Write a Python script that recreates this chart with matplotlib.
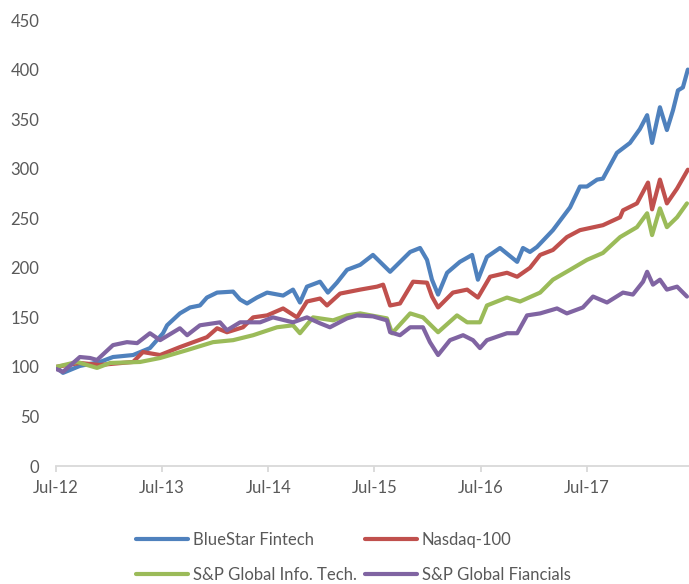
import matplotlib.pyplot as plt
import matplotlib.dates as mdates
import numpy as np

plt.rcParams['font.family'] = ['Lato', 'DejaVu Sans']

fintech_dates = ['2012-07-01', '2012-07-25', '2012-09-21', '2012-11-29', '2013-01-13', '2013-03-23',
                 '2013-05-20', '2013-07-04', '2013-07-18', '2013-08-31', '2013-10-05', '2013-11-08',
                 '2013-12-02', '2014-01-06', '2014-03-02', '2014-03-26', '2014-04-19', '2014-05-23',
                 '2014-06-27', '2014-08-21', '2014-09-24', '2014-10-18', '2014-11-11', '2014-12-26',
                 '2015-01-22', '2015-02-22', '2015-03-29', '2015-05-13', '2015-06-26', '2015-08-24',
                 '2015-11-01', '2015-12-05', '2015-12-29', '2016-01-15', '2016-02-05', '2016-03-07',
                 '2016-04-20', '2016-06-01', '2016-06-21', '2016-07-22', '2016-09-05', '2016-11-03',
                 '2016-11-23', '2016-12-17', '2017-01-10', '2017-03-06', '2017-05-04', '2017-06-07',
                 '2017-07-01', '2017-08-05', '2017-08-25', '2017-10-12', '2017-11-26', '2017-12-30',
                 '2018-01-24', '2018-02-10', '2018-03-09', '2018-04-02', '2018-04-23', '2018-05-10',
                 '2018-05-27', '2018-06-13']
fintech = [100, 94, 101, 105, 110, 112,
           119, 134, 142, 154, 160, 162,
           170, 175, 176, 168, 164, 170,
           175, 172, 178, 165, 181, 186,
           175, 185, 198, 203, 213, 196,
           216, 220, 208, 188, 173, 195,
           206, 213, 188, 211, 220, 206,
           220, 216, 221, 238, 261, 282,
           282, 289, 290, 316, 326, 340,
           354, 326, 362, 339, 359, 379,
           382, 400]

nasdaq_dates = ['2012-07-01', '2012-09-21', '2012-11-29', '2013-03-23', '2013-04-26', '2013-06-24',
                '2013-08-31', '2013-12-02', '2014-01-06', '2014-02-09', '2014-04-05', '2014-05-10',
                '2014-06-27', '2014-08-21', '2014-10-08', '2014-11-11', '2014-12-26', '2015-01-19',
                '2015-03-05', '2015-05-13', '2015-07-10', '2015-07-31', '2015-08-24', '2015-09-27',
                '2015-11-11', '2015-12-29', '2016-01-15', '2016-02-05', '2016-03-27', '2016-05-15',
                '2016-06-21', '2016-08-02', '2016-09-29', '2016-11-03', '2016-12-17', '2017-01-21',
                '2017-03-06', '2017-04-23', '2017-06-07', '2017-08-25', '2017-10-23', '2017-11-02',
                '2017-12-20', '2018-01-27', '2018-02-10', '2018-03-09', '2018-04-02', '2018-05-07',
                '2018-06-13']
nasdaq = [100, 104, 102, 105, 115, 112,
          120, 130, 139, 135, 140, 150,
          152, 159, 150, 166, 169, 162,
          174, 178, 181, 183, 162, 164,
          186, 185, 171, 160, 175, 178,
          170, 191, 195, 191, 200, 213,
          218, 231, 238, 243, 251, 258,
          265, 286, 259, 289, 265, 280,
          299]

infotech_dates = ['2012-07-01', '2012-09-11', '2012-11-19', '2013-01-03', '2013-04-16', '2013-06-24',
                  '2013-09-25', '2013-12-23', '2014-03-02', '2014-05-10', '2014-07-31', '2014-09-24',
                  '2014-10-18', '2014-12-02', '2015-02-09', '2015-03-29', '2015-05-13', '2015-08-13',
                  '2015-08-31', '2015-11-01', '2015-12-15', '2016-02-05', '2016-04-10', '2016-05-15',
                  '2016-06-28', '2016-07-22', '2016-09-29', '2016-11-13', '2017-01-21', '2017-03-06',
                  '2017-05-04', '2017-07-01', '2017-08-25', '2017-10-23', '2017-12-20', '2018-01-24',
                  '2018-02-10', '2018-03-09', '2018-04-02', '2018-05-07', '2018-06-10']
infotech = [100, 105, 99, 104, 105, 109,
            117, 125, 127, 132, 140, 142,
            134, 150, 147, 152, 154, 149,
            134, 154, 150, 135, 152, 145,
            145, 162, 170, 166, 175, 188,
            198, 208, 215, 231, 241, 255,
            233, 260, 241, 251, 265]

financials_dates = ['2012-07-01', '2012-07-25', '2012-09-21', '2012-10-26', '2012-11-19', '2013-01-13',
                    '2013-03-02', '2013-04-06', '2013-05-20', '2013-06-24', '2013-08-31', '2013-09-25',
                    '2013-11-08', '2014-01-16', '2014-02-09', '2014-03-26', '2014-06-03', '2014-07-17',
                    '2014-09-24', '2014-11-11', '2014-12-26', '2015-01-29', '2015-03-29', '2015-05-02',
                    '2015-06-26', '2015-08-13', '2015-08-24', '2015-09-27', '2015-11-01', '2015-12-15',
                    '2016-01-08', '2016-02-05', '2016-03-17', '2016-05-01', '2016-06-04', '2016-06-28',
                    '2016-07-22', '2016-09-29', '2016-11-03', '2016-12-07', '2017-01-21', '2017-03-20',
                    '2017-04-23', '2017-06-17', '2017-07-22', '2017-08-15', '2017-09-08', '2017-11-02',
                    '2017-12-06', '2018-01-10', '2018-01-24', '2018-02-13', '2018-03-09', '2018-04-02',
                    '2018-05-07', '2018-06-10']
financials = [98, 95, 110, 109, 107, 122,
              125, 124, 134, 127, 139, 132,
              142, 145, 137, 145, 145, 150,
              145, 150, 144, 140, 149, 152,
              151, 147, 135, 132, 140, 140,
              125, 112, 127, 132, 127, 119,
              127, 134, 134, 152, 154, 159,
              154, 160, 171, 168, 165, 175,
              173, 186, 196, 183, 188, 178,
              181, 171]

series = [
    ('BlueStar Fintech', fintech_dates, fintech, '#4F81BD'),
    ('Nasdaq-100', nasdaq_dates, nasdaq, '#C0504D'),
    ('S&P Global Info. Tech.', infotech_dates, infotech, '#9BBB59'),
    ('S&P Global Fiancials', financials_dates, financials, '#8064A2'),
]

grey = '#595959'

fig = plt.figure(figsize=(6.89, 5.84), dpi=100)
ax = fig.add_axes([0.0813, 0.202, 0.9187, 0.7637])

lines = []
for name, d, v, c in series:
    ln, = ax.plot(np.array(d, dtype='datetime64[D]'), v, color=c, lw=3, label=name,
                  solid_joinstyle='round', solid_capstyle='round')
    lines.append(ln)

ax.set_ylim(0, 450)
ax.set_yticks(np.arange(0, 451, 50))
ax.set_xlim(np.datetime64('2012-07-01'), np.datetime64('2018-06-17'))
ax.xaxis.set_major_locator(mdates.MonthLocator(bymonth=7, bymonthday=1))
ax.xaxis.set_major_formatter(mdates.DateFormatter('%b-%y'))

for s in ['top', 'right', 'left']:
    ax.spines[s].set_visible(False)
ax.spines['bottom'].set_color('#d9d9d9')
ax.spines['bottom'].set_linewidth(1.3)
ax.tick_params(axis='y', length=0, pad=12, labelsize=12, labelcolor=grey)
ax.tick_params(axis='x', length=4, width=1.3, color='#d9d9d9', pad=6,
               labelsize=12, labelcolor=grey)

# legend fills column by column, so order handles to get rows like the original
order = [0, 2, 1, 3]
leg = fig.legend([lines[i] for i in order], [series[i][0] for i in order],
                 loc='center', bbox_to_anchor=(0.513, 0.046), ncol=2, frameon=False,
                 fontsize=12, handlelength=3.1, handletextpad=0.3, columnspacing=0.5,
                 labelspacing=1.15)
for t in leg.get_texts():
    t.set_color(grey)

fig.savefig('out.png', dpi=100)
